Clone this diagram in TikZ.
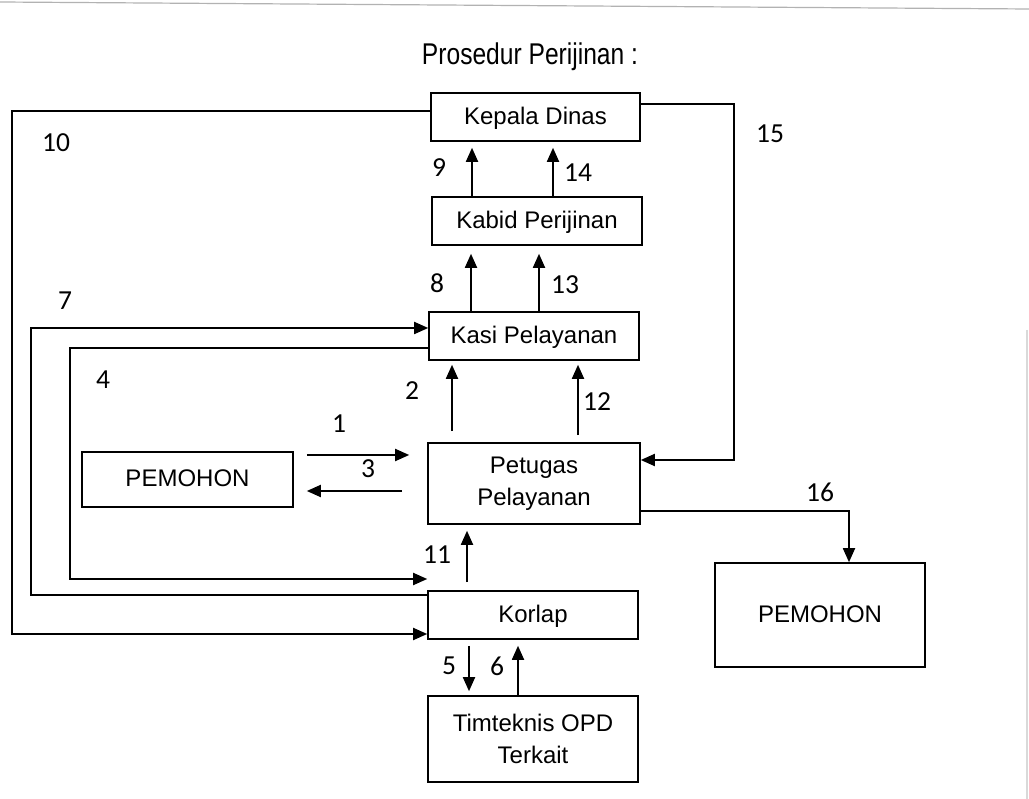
\documentclass[tikz,border=0pt]{standalone}
\usepackage{fontspec}
\setmainfont{Liberation Sans}
\newfontfamily\numfont{Carlito}
\newfontfamily\titlefont[FakeStretch=0.82]{Liberation Sans}
\usetikzlibrary{arrows.meta}
\begin{document}
\begin{tikzpicture}[x=1pt,y=-1pt,
  box/.style={draw, line width=1.6pt, rectangle, inner sep=0pt, align=center, font=\fontsize{24}{32}\selectfont},
  onebox/.style={box, text height=20pt, text depth=5pt},
  lab/.style={font=\numfont\fontsize{27.5}{30}\selectfont, inner sep=0pt},
  arr/.style={-{Triangle[length=14pt,width=12pt]}, line width=1.8pt},
  scan/.style={line width=1.2pt}]
\useasboundingbox (0,0) rectangle (1029,799);
% scan edges
\draw[scan, gray!60] (0,2) -- (1029,9);
\draw[scan, gray!30] (1027,330) -- (1027,799);
% title
\node[font=\titlefont\fontsize{30}{34}\selectfont] (title) at (530,57) {Prosedur Perijinan :};
% boxes
\node[onebox, minimum width=209pt, minimum height=48pt] (kepala) at (535.5,117) {Kepala Dinas};
\node[onebox, minimum width=210pt, minimum height=48pt] (kabid) at (537,221) {Kabid Perijinan};
\node[onebox, minimum width=210pt, minimum height=48pt] (kasi) at (534,336) {Kasi Pelayanan};
\node[box, minimum width=212pt, minimum height=81pt] (petugas) at (534,483.5) {Petugas\\Pelayanan};
\node[onebox, minimum width=211pt, minimum height=55pt] (pem1) at (187.5,479.5) {PEMOHON};
\node[onebox, minimum width=210pt, minimum height=48pt] (korlap) at (533,615) {Korlap};
\node[box, minimum width=210pt, minimum height=86pt] (tim) at (533,739) {Timteknis OPD\\Terkait};
\node[onebox, minimum width=210pt, minimum height=104pt] (pem2) at (820,615) {PEMOHON};
% helper coordinates
\coordinate (x9) at (472,0);
\coordinate (x14) at (553,0);
\coordinate (x8) at (471,0);
\coordinate (x13) at (539,0);
\coordinate (x2) at (452,0);
\coordinate (x12) at (578,0);
\coordinate (x11) at (467,0);
\coordinate (x5) at (469,0);
\coordinate (x6) at (518,0);
\coordinate (y1) at (0,455);
\coordinate (y3) at (0,491);
\coordinate (c15) at (734,104);
\coordinate (y15) at (0,460);
\coordinate (c16) at (849,511);
\coordinate (c10) at (12,111);
\coordinate (y10) at (0,634);
\coordinate (c7a) at (31,595);
\coordinate (c7b) at (31,328);
\coordinate (c4a) at (70,348);
\coordinate (c4b) at (70,579);
% vertical arrows
\draw[arr, shorten >=6pt] (x9 |- kabid.north) -- (x9 |- kepala.south);
\draw[arr, shorten >=6pt] (x14 |- kabid.north) -- (x14 |- kepala.south);
\draw[arr, shorten >=8pt] (x8 |- kasi.north) -- (x8 |- kabid.south);
\draw[arr, shorten >=8pt] (x13 |- kasi.north) -- (x13 |- kabid.south);
\draw[arr, shorten <=11pt, shorten >=4pt] (x2 |- petugas.north) -- (x2 |- kasi.south);
\draw[arr, shorten <=7pt, shorten >=4pt] (x12 |- petugas.north) -- (x12 |- kasi.south);
\draw[arr, shorten <=8pt, shorten >=6pt] (x11 |- korlap.north) -- (x11 |- petugas.south);
\draw[arr, shorten <=6pt, shorten >=4pt] (x5 |- korlap.south) -- (x5 |- tim.north);
\draw[arr, shorten >=6pt] (x6 |- tim.north) -- (x6 |- korlap.south);
% horizontal arrows
\draw[arr, shorten <=13pt, shorten >=18pt] (pem1.east |- y1) -- (petugas.west |- y1);
\draw[arr, shorten <=25pt, shorten >=13pt] (petugas.west |- y3) -- (pem1.east |- y3);
% routed arrows
\draw[arr] (kepala.east |- c15) -- (c15) |- (petugas.east |- y15);
\draw[arr] (petugas.east |- c16) -| (pem2.north -| c16);
\draw[arr] (kepala.west |- c10) -- (c10) |- (korlap.west |- y10);
\draw[arr] (korlap.west |- c7a) -- (c7a) -- (c7b) -- (kasi.west |- c7b);
\draw[arr] (kasi.west |- c4a) -- (c4a) -- (c4b) -- (korlap.west |- c4b);
% labels
\node[lab] (l10) at (56,143) {10};
\node[lab] (l15) at (770,134) {15};
\node[lab] (l9) at (439,168) {9};
\node[lab] (l14) at (578,173) {14};
\node[lab] (l8) at (437,283) {8};
\node[lab] (l13) at (565,285) {13};
\node[lab] (l7) at (65,301) {7};
\node[lab] (l4) at (103,380) {4};
\node[lab] (l2) at (412,391) {2};
\node[lab] (l12) at (597,402) {12};
\node[lab] (l1) at (339,424) {1};
\node[lab] (l3) at (368,469) {3};
\node[lab] (l16) at (820,492) {16};
\node[lab] (l11) at (437,555) {11};
\node[lab] (l5) at (449,666) {5};
\node[lab] (l6) at (497,666) {6};
\end{tikzpicture}
\end{document}
